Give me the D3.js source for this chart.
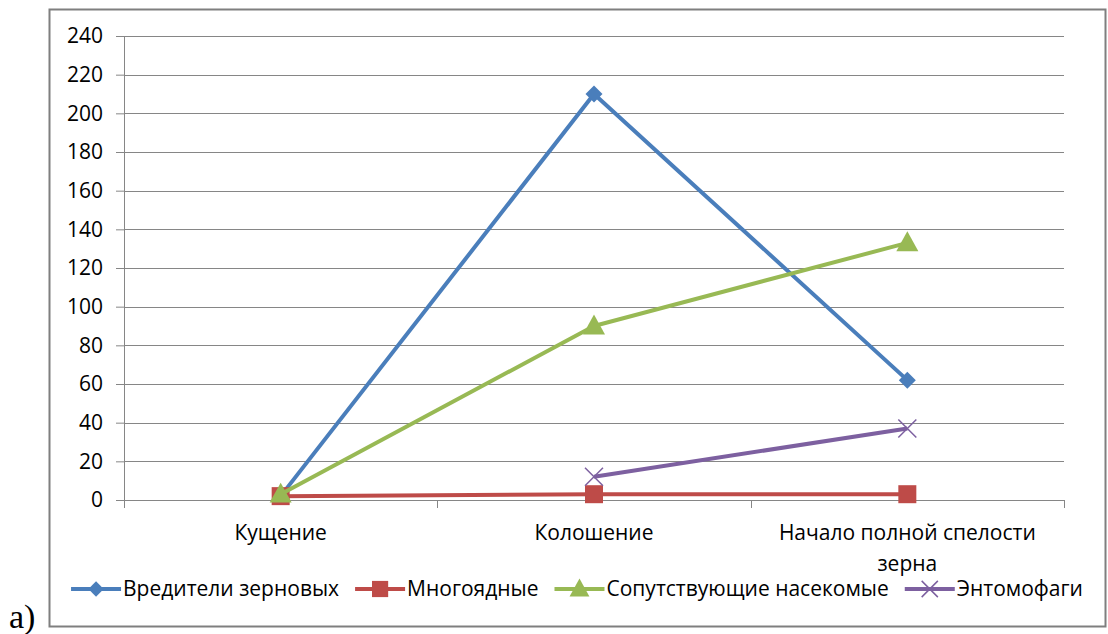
<!DOCTYPE html>
<html>
<head>
<meta charset="utf-8">
<script src="https://cdn.jsdelivr.net/npm/d3@7"></script>
<style>
  body { margin: 0; background: #fff; }
  text { font-family: "Open Sans", "Liberation Sans", sans-serif; fill: #000; }
</style>
</head>
<body>
<div id="chart"></div>
<script>
var stages = ["Кущение", "Колошение", "Начало полной спелости зерна"];
var pests = [2, 210, 62];
var polyphagous = [2, 3, 3];
var companions = [3, 90, 133];
var entomophages = [null, 12, 37];
var yTicks = [0, 20, 40, 60, 80, 100, 120, 140, 160, 180, 200, 220, 240];

var series = [
    {name: "Вредители зерновых", values: pests, color: "#4a7ebb", marker: "diamond"},
    {name: "Многоядные", values: polyphagous, color: "#be4b48", marker: "square"},
    {name: "Сопутствующие насекомые", values: companions, color: "#98b954", marker: "triangle"},
    {name: "Энтомофаги", values: entomophages, color: "#7d60a0", marker: "x"}
];

var W = 1108, H = 634;
var fontSize = 21;
var margin = {top: 36, right: 44, bottom: 134, left: 124},
    width = W - margin.left - margin.right,
    height = H - margin.top - margin.bottom;

var svg = d3.select("#chart").append("svg")
    .attr("width", W)
    .attr("height", H);

// outer frame
svg.append("rect")
    .attr("x", 49.5).attr("y", 9.5)
    .attr("width", 1056).attr("height", 617)
    .attr("fill", "none")
    .attr("stroke", "#7f7f7f")
    .attr("stroke-width", 2);

svg.append("text")
    .attr("x", 9).attr("y", 628)
    .text("а)")
    .style("font-family", "'Liberation Serif', serif")
    .attr("font-size", 34);

var g = svg.append("g")
    .attr("transform", "translate(" + margin.left + "," + margin.top + ")");

var x = d3.scaleBand().domain(stages).range([0, width]);
var y = d3.scaleLinear().domain([0, 240]).range([height, 0]);

// gridlines
g.selectAll(".grid")
    .data(yTicks.slice(1))
    .enter().append("line")
    .attr("x1", 0).attr("x2", width)
    .attr("y1", function(d) { return Math.round(y(d)) + 0.5; })
    .attr("y2", function(d) { return Math.round(y(d)) + 0.5; })
    .attr("stroke", "#868686");

var yAxis = d3.axisLeft(y).tickValues(yTicks).tickSize(8).tickPadding(13);
var yg = g.append("g").attr("class", "y axis").call(yAxis);
yg.selectAll("text").attr("font-size", fontSize).style("font-family", "'Open Sans', sans-serif");
yg.select(".domain").attr("stroke", "#868686").attr("d", "M0.5,0V" + height);
yg.selectAll(".tick line").attr("stroke", "#868686");

var xAxis = d3.axisBottom(x).tickSize(8).tickFormat("");
var xg = g.append("g").attr("transform", "translate(0," + height + ")").call(xAxis);
xg.select(".domain").attr("stroke", "#868686").attr("d", "M0,0.5H" + width);
xg.selectAll(".tick").remove();
xg.selectAll(".sep")
    .data(d3.range(stages.length + 1))
    .enter().append("line")
    .attr("x1", function(i) { return Math.round(i * x.step()) + 0.5; })
    .attr("x2", function(i) { return Math.round(i * x.step()) + 0.5; })
    .attr("y1", 0).attr("y2", 8)
    .attr("stroke", "#868686");

// category labels (wrapped)
var labelLines = {"Начало полной спелости зерна": ["Начало полной спелости", "зерна"]};
g.selectAll(".catLabel")
    .data(stages)
    .enter().append("text")
    .attr("class", "catLabel")
    .attr("text-anchor", "middle")
    .attr("font-size", fontSize)
    .each(function(d) {
        var lines = labelLines[d] || [d];
        var t = d3.select(this);
        lines.forEach(function(l, i) {
            t.append("tspan")
                .attr("x", x(d) + x.bandwidth() / 2)
                .attr("y", height + 40 + i * 31)
                .text(l);
        });
    });

function markerPath(type, s) {
    if (type === "diamond") return "M0," + (-s) + "L" + s + ",0L0," + s + "L" + (-s) + ",0Z";
    if (type === "square") return "M" + (-s) + "," + (-s) + "H" + s + "V" + s + "H" + (-s) + "Z";
    if (type === "triangle") return "M0," + (-s * 1.1) + "L" + (s * 1.05) + "," + (s * 0.8) + "L" + (-s * 1.05) + "," + (s * 0.8) + "Z";
    return "M" + (-s) + "," + (-s) + "L" + s + "," + s + "M" + (-s) + "," + s + "L" + s + "," + (-s);
}
var markerSize = {diamond: 8.5, square: 9, triangle: 10.5, x: 9};

var line = d3.line()
    .defined(function(d) { return d.v !== null; })
    .x(function(d) { return x(d.c) + x.bandwidth() / 2; })
    .y(function(d) { return y(d.v); });

var order = [0, 1, 3, 2];
order.forEach(function(i) {
    var s = series[i];
    var pts = s.values.map(function(v, j) { return {c: stages[j], v: v}; });
    g.append("path")
        .datum(pts)
        .attr("fill", "none")
        .attr("stroke", s.color)
        .attr("stroke-width", 4)
        .attr("stroke-linejoin", "round")
        .attr("d", line);
    g.selectAll(".m" + i)
        .data(pts.filter(function(d) { return d.v !== null; }))
        .enter().append("path")
        .attr("transform", function(d) {
            return "translate(" + (x(d.c) + x.bandwidth() / 2) + "," + y(d.v) + ")";
        })
        .attr("d", markerPath(s.marker, markerSize[s.marker]))
        .attr("fill", s.marker === "x" ? "none" : s.color)
        .attr("stroke", s.color)
        .attr("stroke-width", s.marker === "x" ? 1.5 : 0);
});

// legend
var legend = svg.append("g").attr("transform", "translate(0,589)");
var items = legend.selectAll(".item")
    .data(series)
    .enter().append("g");
items.append("line")
    .attr("x1", 0).attr("x2", 50)
    .attr("stroke", function(d) { return d.color; })
    .attr("stroke-width", 4);
items.append("path")
    .attr("transform", "translate(25,0)")
    .attr("d", function(d) { return markerPath(d.marker, markerSize[d.marker] * 0.9); })
    .attr("fill", function(d) { return d.marker === "x" ? "none" : d.color; })
    .attr("stroke", function(d) { return d.color; })
    .attr("stroke-width", function(d) { return d.marker === "x" ? 1.5 : 0; });
items.append("text")
    .attr("x", 52)
    .attr("y", 7)
    .attr("font-size", fontSize)
    .text(function(d) { return d.name; });

var widths = [];
items.each(function() { widths.push(this.getBBox().width); });
var gap = 16;
var total = d3.sum(widths) + gap * (widths.length - 1);
var cx = 49 + 1056 / 2;
var pos = cx - total / 2;
items.attr("transform", function(d, i) {
    var p = pos;
    pos += widths[i] + gap;
    return "translate(" + p + ",0)";
});
</script>
</body>
</html>
